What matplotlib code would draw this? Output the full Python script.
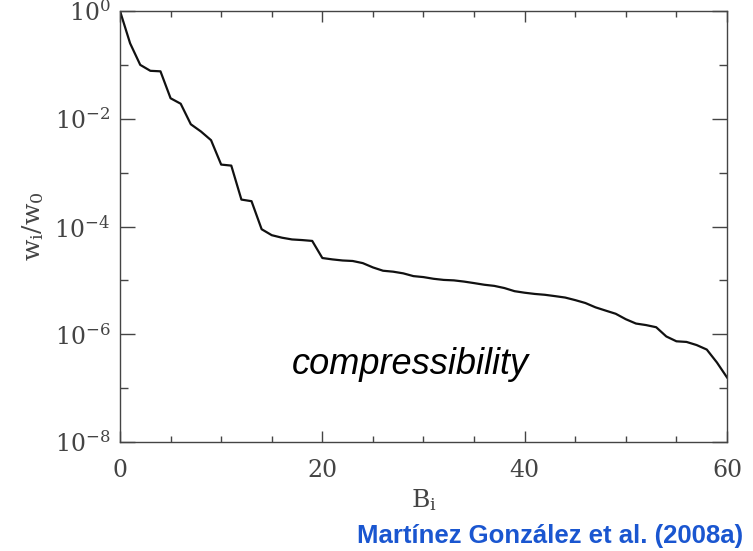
import matplotlib
matplotlib.use('Agg')
import matplotlib.pyplot as plt
import numpy as np
from matplotlib.ticker import FixedLocator, LogFormatterMathtext, NullFormatter

basis_index = list(range(0, 61))
weight_ratio = [
    1.0, 0.251, 0.1, 7.76e-2, 7.59e-2, 2.4e-2, 1.9e-2, 7.9e-3, 5.8e-3, 4.0e-3,
    1.41e-3, 1.35e-3, 3.16e-4, 2.95e-4, 8.9e-5, 6.9e-5, 6.2e-5, 5.75e-5, 5.6e-5, 5.4e-5,
    2.6e-5, 2.45e-5, 2.34e-5, 2.29e-5, 2.09e-5, 1.74e-5, 1.51e-5, 1.45e-5, 1.35e-5, 1.2e-5,
    1.15e-5, 1.07e-5, 1.02e-5, 1.0e-5, 9.5e-6, 8.9e-6, 8.3e-6, 7.9e-6, 7.2e-6, 6.3e-6,
    5.9e-6, 5.6e-6, 5.4e-6, 5.1e-6, 4.8e-6, 4.3e-6, 3.8e-6, 3.16e-6, 2.75e-6, 2.4e-6,
    1.9e-6, 1.58e-6, 1.48e-6, 1.35e-6, 9.1e-7, 7.4e-7, 7.2e-7, 6.3e-7, 5.2e-7, 3.0e-7,
    1.58e-7,
]
x_major = [0, 20, 40, 60]
x_minor = [5, 10, 15, 25, 30, 35, 45, 50, 55]
y_major = [1e0, 1e-2, 1e-4, 1e-6, 1e-8]
y_minor = [1e-1, 1e-3, 1e-5, 1e-7]

plt.rcParams['mathtext.fontset'] = 'dejavuserif'
plt.rcParams['font.family'] = 'DejaVu Serif'

W, H = 753, 551
fig = plt.figure(figsize=(W / 100, H / 100), dpi=100)
ax = fig.add_axes([120 / W, 1 - 442 / H, 607 / W, 431 / H])

ax.plot(basis_index, weight_ratio, color='#111111', lw=1.6)

ax.set_yscale('log')
ax.set_xlim(0, 60)
ax.set_ylim(1e-8, 1e0)

ax.xaxis.set_major_locator(FixedLocator(x_major))
ax.xaxis.set_minor_locator(FixedLocator(x_minor))
ax.yaxis.set_major_locator(FixedLocator(y_major))
ax.yaxis.set_minor_locator(FixedLocator(y_minor))
ax.yaxis.set_major_formatter(LogFormatterMathtext())
ax.yaxis.set_minor_formatter(NullFormatter())

ax.tick_params(which='both', direction='in', top=True, right=True,
               color='#444444', width=1.0, labelcolor='#444444', labelsize=17)
ax.tick_params(axis='x', which='major', length=8, pad=12)
ax.tick_params(axis='x', which='minor', length=4.5)
ax.tick_params(axis='y', which='major', length=11, pad=7)
ax.tick_params(axis='y', which='minor', length=5.5)

for s in ax.spines.values():
    s.set_color('#444444')
    s.set_linewidth(1.0)

ax.set_xlabel(r'$\mathrm{B}_{\mathrm{i}}$', fontsize=18, color='#444444', labelpad=4)
ax.set_ylabel(r'$\mathrm{w}_{\mathrm{i}}/\mathrm{w}_{0}$', fontsize=18, color='#444444', labelpad=6)

fig.text(410 / W, 1 - 365 / H, 'compressibility', family='Liberation Sans',
         style='italic', fontsize=26, ha='center', va='center', color='black')
fig.text(743 / W, 1 - 536 / H, 'Martínez González et al. (2008a)',
         family='Liberation Sans', weight='bold', fontsize=18.5,
         ha='right', va='center', color='#1a56d0')

fig.savefig('out.png', dpi=100)
